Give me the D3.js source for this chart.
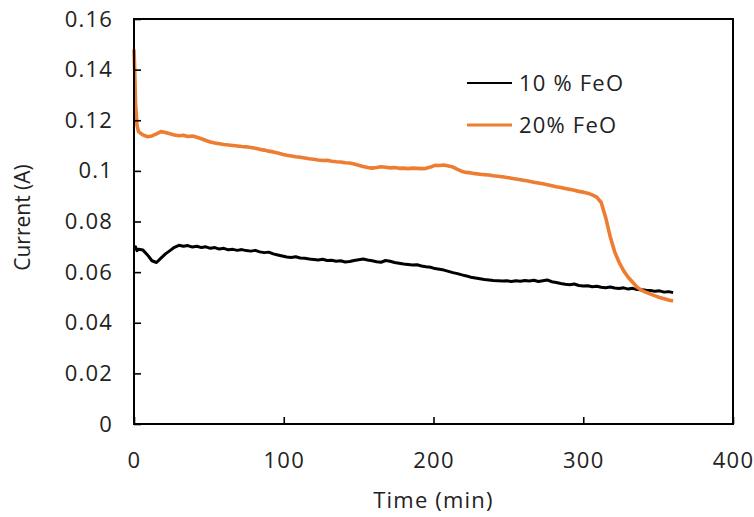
<!DOCTYPE html>
<html>
<head>
<meta charset="utf-8">
<script src="https://cdn.jsdelivr.net/npm/d3@7"></script>
<style>
  body { margin: 0; background: #fff; }
  text { font-family: "Open Sans", "Liberation Sans", sans-serif; fill: #222; letter-spacing: 1.2px; }
</style>
</head>
<body>
<div id="chart"></div>
<script>
var width = 754,
    height = 517,
    margin = {top: 19, right: 21, bottom: 93, left: 134};

// sampling times (min)
var timeMin = [0, 0.5, 1, 2, 3,
  6, 9, 12, 15, 18, 21, 24, 27, 30, 33, 36, 39, 42, 45, 48, 51, 54, 57, 60,
  63, 66, 69, 72, 75, 78, 81, 84, 87, 90, 93, 96, 99, 102, 105, 108, 111, 114, 117, 120,
  123, 126, 129, 132, 135, 138, 141, 144, 147, 150, 153, 156, 159, 162, 165, 168, 171, 174, 177, 180,
  183, 186, 189, 192, 195, 198, 201, 204, 207, 210, 213, 216, 219, 222, 225, 228, 231, 234, 237, 240,
  243, 246, 249, 252, 255, 258, 261, 264, 267, 270, 273, 276, 279, 282, 285, 288, 291, 294, 297, 300,
  303, 306, 309, 312, 315, 318, 321, 324, 327, 330, 333, 336, 339, 342, 345, 348, 351, 354, 357, 360];

// 10 % FeO current (A)
var current10 = [0.0690, 0.0695, 0.0700, 0.0685, 0.0690,
  0.0687, 0.0668, 0.0645, 0.0638, 0.0655, 0.0672, 0.0685, 0.0698, 0.0706, 0.0702, 0.0705, 0.0699, 0.0702, 0.0697, 0.0700, 0.0694, 0.0697, 0.0691, 0.0694,
  0.0688, 0.0690, 0.0686, 0.0689, 0.0685, 0.0683, 0.0686, 0.0680, 0.0677, 0.0679, 0.0672, 0.0668, 0.0664, 0.0660, 0.0658, 0.0661, 0.0656, 0.0655, 0.0652, 0.0650,
  0.0648, 0.0651, 0.0646, 0.0647, 0.0643, 0.0645, 0.0640, 0.0642, 0.0646, 0.0649, 0.0652, 0.0648, 0.0645, 0.0641, 0.0639, 0.0646, 0.0643, 0.0638, 0.0635, 0.0632,
  0.0630, 0.0628, 0.0629, 0.0624, 0.0621, 0.0619, 0.0614, 0.0611, 0.0608, 0.0603, 0.0598, 0.0594, 0.0589, 0.0585, 0.0580, 0.0577, 0.0574, 0.0571, 0.0569, 0.0567,
  0.0566, 0.0565, 0.0566, 0.0563, 0.0566, 0.0564, 0.0567, 0.0565, 0.0568, 0.0563, 0.0566, 0.0569, 0.0562, 0.0559, 0.0555, 0.0552, 0.0550, 0.0553, 0.0547, 0.0545,
  0.0546, 0.0542, 0.0544, 0.0540, 0.0538, 0.0541, 0.0537, 0.0535, 0.0538, 0.0533, 0.0536, 0.0531, 0.0530, 0.0528, 0.0527, 0.0524, 0.0526, 0.0521, 0.0523, 0.0519];

// 20% FeO current (A)
var current20 = [0.1480, 0.1390, 0.1270, 0.1180, 0.1155,
  0.1142, 0.1135, 0.1138, 0.1146, 0.1155, 0.1152, 0.1147, 0.1142, 0.1139, 0.1141, 0.1136, 0.1138, 0.1133, 0.1127, 0.1120, 0.1114, 0.1110, 0.1107, 0.1104,
  0.1102, 0.1100, 0.1098, 0.1096, 0.1095, 0.1092, 0.1089, 0.1085, 0.1082, 0.1078, 0.1075, 0.1071, 0.1066, 0.1062, 0.1059, 0.1056, 0.1054, 0.1051, 0.1048, 0.1046,
  0.1043, 0.1041, 0.1042, 0.1038, 0.1036, 0.1035, 0.1032, 0.1031, 0.1027, 0.1022, 0.1017, 0.1013, 0.1011, 0.1013, 0.1016, 0.1014, 0.1012, 0.1013, 0.1010, 0.1011,
  0.1009, 0.1011, 0.1010, 0.1009, 0.1010, 0.1015, 0.1022, 0.1021, 0.1023, 0.1019, 0.1015, 0.1006, 0.0998, 0.0994, 0.0992, 0.0989, 0.0987, 0.0985, 0.0984, 0.0981,
  0.0979, 0.0977, 0.0974, 0.0971, 0.0968, 0.0965, 0.0962, 0.0959, 0.0955, 0.0952, 0.0949, 0.0945, 0.0941, 0.0937, 0.0934, 0.0930, 0.0927, 0.0923, 0.0919, 0.0916,
  0.0912, 0.0905, 0.0896, 0.0875, 0.0815, 0.0740, 0.0680, 0.0638, 0.0605, 0.0580, 0.0560, 0.0540, 0.0528, 0.0520, 0.0513, 0.0506, 0.0500, 0.0495, 0.0490, 0.0486];

var xTicks = [0, 100, 200, 300, 400];
var yTicks = [0, 0.02, 0.04, 0.06, 0.08, 0.1, 0.12, 0.14, 0.16];
var seriesNames = ["10 % FeO", "20% FeO"];
var seriesColors = ["#000000", "#ED7D31"];

var innerW = width - margin.left - margin.right,
    innerH = height - margin.top - margin.bottom;

var x = d3.scaleLinear().domain([0, 400]).range([0, innerW]);
var y = d3.scaleLinear().domain([0, 0.16]).range([innerH, 0]);

var svg = d3.select("#chart").append("svg")
    .attr("width", width)
    .attr("height", height)
  .append("g")
    .attr("transform", "translate(" + margin.left + "," + margin.top + ")");

var series = [current10, current20].map(function(vals, i) {
  return {
    name: seriesNames[i],
    color: seriesColors[i],
    values: timeMin.map(function(t, j) { return [t, vals[j]]; })
  };
});

var line = d3.line()
    .x(function(d) { return x(d[0]); })
    .y(function(d) { return y(d[1]); });

svg.selectAll(".series")
    .data(series)
  .enter().append("path")
    .attr("class", "series")
    .attr("d", function(d) { return line(d.values); })
    .style("fill", "none")
    .style("stroke", function(d) { return d.color; })
    .style("stroke-width", function(d, i) { return i ? 3.6 : 3.0; })
    .style("stroke-linejoin", "round");

// axes with inside ticks
svg.append("g")
    .call(d3.axisLeft(y).tickValues(yTicks).tickSize(-7).tickPadding(21)
      .tickFormat(function(d) { return d === 0 ? "0" : String(+d.toFixed(2)); }));

svg.append("g")
    .attr("transform", "translate(0," + innerH + ")")
    .call(d3.axisBottom(x).tickValues(xTicks).tickSize(-7).tickPadding(28));

svg.selectAll(".tick text")
    .style("font-size", "22px")
    .style("font-family", "'Open Sans', sans-serif")
    .style("fill", "#222");
svg.selectAll(".tick line").style("stroke", "#000").style("stroke-width", 1.6);
svg.selectAll(".domain").remove();

// frame
svg.append("rect")
    .attr("width", innerW)
    .attr("height", innerH)
    .style("fill", "none")
    .style("stroke", "#000")
    .style("stroke-width", 2);

// axis titles
svg.append("text")
    .attr("x", innerW / 2)
    .attr("y", innerH + 84)
    .attr("text-anchor", "middle")
    .style("font-size", "22px")
    .text("Time (min)");

svg.append("text")
    .attr("transform", "translate(" + (-104) + "," + (innerH / 2 - 4) + ") rotate(-90)")
    .attr("text-anchor", "middle")
    .style("font-size", "21px")
    .style("letter-spacing", "0px")
    .text("Current (A)");

// legend
var legend = svg.selectAll(".legend")
    .data(series)
  .enter().append("g")
    .attr("class", "legend")
    .attr("transform", function(d, i) { return "translate(" + 333 + "," + (64 + i * 42) + ")"; });

legend.append("line")
    .attr("x1", 0)
    .attr("x2", 45)
    .style("stroke", function(d) { return d.color; })
    .style("stroke-width", function(d, i) { return i ? 3 : 2; });

legend.append("text")
    .attr("x", 52)
    .attr("dy", "0.35em")
    .style("font-size", "22px")
    .text(function(d) { return d.name; });
</script>
</body>
</html>
